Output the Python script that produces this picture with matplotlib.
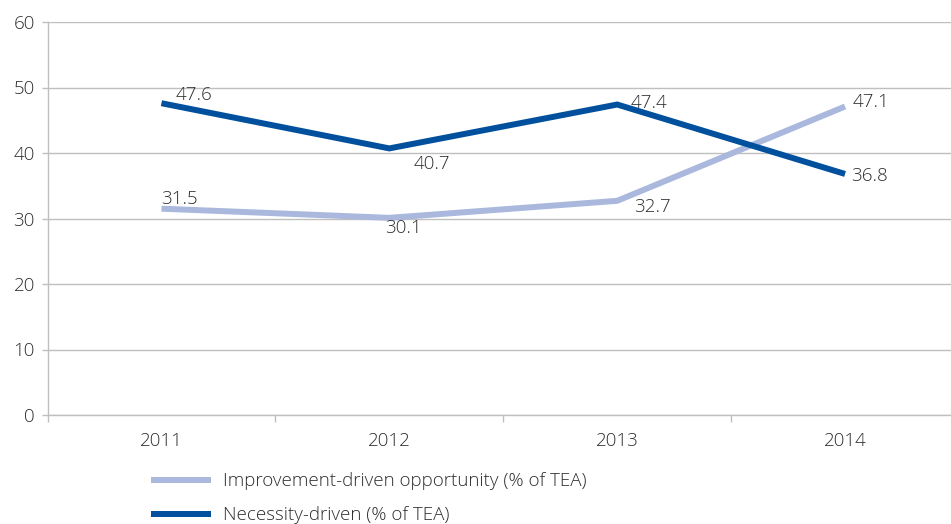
import numpy as np
import matplotlib
matplotlib.use("Agg")
import matplotlib.pyplot as plt

years = ["2011", "2012", "2013", "2014"]
improvement = [31.5, 30.1, 32.7, 47.1]
necessity = [47.6, 40.7, 47.4, 36.8]
series_names = ["Improvement-driven opportunity (% of TEA)", "Necessity-driven (% of TEA)"]

# label offsets in pixels (dx to left edge, dy up)
imp_offsets = [(0, 10), (-4, -10), (17, -6), (8, 4)]
nec_offsets = [(14, 8), (24, -16), (13, 2), (6, -2)]

light_blue = "#A9B8DC"
dark_blue = "#00509D"
text_col = "#2E2E2E"
grid_col = "#BFBFBF"
fs = 13.5

plt.rcParams['font.family'] = ['Open Sans', 'DejaVu Sans']
plt.rcParams['font.weight'] = 'light'

W, H = 951, 524
fig = plt.figure(figsize=(W / 100, H / 100), dpi=100)
ax = fig.add_axes([47.5 / W, (H - 415) / H, (959 - 47.5) / W, (415 - 22) / H])

x = np.arange(len(years))
ax.plot(x, improvement, color=light_blue, lw=4.3, solid_capstyle='butt',
        solid_joinstyle='miter', label=series_names[0], zorder=3)
ax.plot(x, necessity, color=dark_blue, lw=4.3, solid_capstyle='butt',
        solid_joinstyle='miter', label=series_names[1], zorder=4)

for vals, offs in [(improvement, imp_offsets), (necessity, nec_offsets)]:
    for xi, v, (dx, dy) in zip(x, vals, offs):
        ax.annotate(f"{v:.1f}", (xi, v), xytext=(dx, dy), textcoords='offset pixels',
                    ha='left', va='center', fontsize=fs, color=text_col)

ax.set_xlim(-0.5, 3.5)
ax.set_ylim(0, 60)
ax.set_yticks(np.arange(0, 61, 10))
ax.set_xticks(x)
ax.set_xticklabels(years)
ax.set_xticks(np.arange(-0.5, 3.6, 1), minor=True)
ax.tick_params(axis='x', which='major', length=0, pad=12, labelsize=fs, labelcolor=text_col)
ax.tick_params(axis='x', which='minor', length=5, width=1, color=grid_col)
ax.tick_params(axis='y', length=4, width=1, color=grid_col, pad=5,
               labelsize=fs, labelcolor=text_col)

ax.grid(axis='y', color=grid_col, lw=1)
ax.set_axisbelow(True)
for s in ['top', 'right']:
    ax.spines[s].set_visible(False)
for s in ['left', 'bottom']:
    ax.spines[s].set_color(grid_col)
    ax.spines[s].set_linewidth(1)

leg = fig.legend(loc='upper left', bbox_to_anchor=(143 / W, 1 - 465 / H),
                 frameon=False, fontsize=fs, handlelength=3.25, handletextpad=0.64,
                 labelspacing=0.85, borderaxespad=0)
for t in leg.get_texts():
    t.set_color(text_col)

fig.savefig("out.png", dpi=100)
